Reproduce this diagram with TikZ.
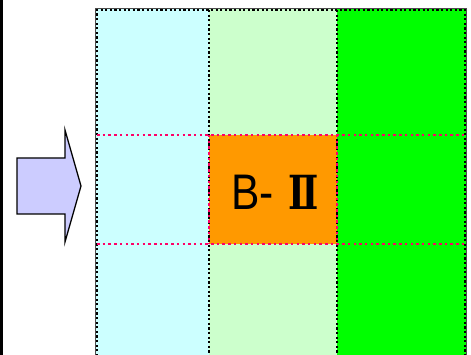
\documentclass[tikz,border=0pt]{standalone}
\usepackage{fontspec}
\setmainfont{Liberation Sans}
\newfontfamily\numfont{DejaVu Serif Condensed}
\begin{document}
\begin{tikzpicture}[x=1pt,y=-1pt,
  blackdot/.style={draw=black,line width=2.2pt,dash pattern=on 2.2pt off 2.4pt},
  reddot/.style={draw=reddot,line width=2.5pt,dash pattern=on 2.5pt off 3.2pt},
]
\definecolor{cyanlt}{HTML}{CCFFFF}
\definecolor{greenlt}{HTML}{CCFFCC}
\definecolor{greenhi}{HTML}{00FF00}
\definecolor{orangec}{HTML}{FF9900}
\definecolor{reddot}{HTML}{FF0066}
\definecolor{lav}{HTML}{CCCCFF}
\useasboundingbox (0,0) rectangle (471,355);
% left bar
\fill[black] (0,0) rectangle (3,355);
% columns
\fill[cyanlt] (96,9) rectangle (209,356);
\fill[greenlt] (209,9) rectangle (337,356);
\fill[greenhi] (337,9) rectangle (466,356);
\fill[orangec] (209,135) rectangle (337,244);
% outer solid border
\draw[black!70,line width=0.8pt] (95.5,356) -- (95.5,8.5) -- (466,8.5) -- (466,356);
% black dotted column borders
\draw[blackdot] (97,356) -- (97,10) -- (465,10) -- (465,356);
\draw[blackdot] (209,10) -- (209,356);
\draw[blackdot] (337,10) -- (337,356);
% red dotted rows
\draw[reddot] (97,135) -- (465,135);
\draw[reddot] (97,244) -- (465,244);
\draw[reddot] (209,135) -- (209,244);
\draw[reddot] (337,135) -- (337,244);
% label
\node[xscale=0.85,inner sep=0,anchor=base west] (lbl) at (231,210)
  {\fontsize{50}{50}\selectfont B-\hspace{17pt}{\numfont\bfseries\fontsize{47}{47}\selectfont Ⅱ}};
% arrow
\draw[fill=lav,line width=1.3pt,line join=miter] (17,158) -- (65,158) -- (65,130) -- (81,186) -- (65,242) -- (65,214) -- (17,214) -- cycle;
\end{tikzpicture}
\end{document}
